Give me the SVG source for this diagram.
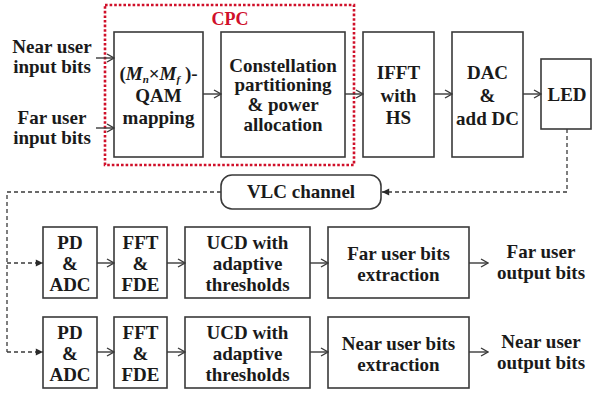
<svg xmlns="http://www.w3.org/2000/svg" width="592" height="396" viewBox="0 0 592 396">
<style>
text{font-weight:700;font-size:19px;fill:#1a1a1a;text-anchor:middle}
.box{fill:#fff;stroke:#3a3a3a;stroke-width:1.6}
.ln{fill:none;stroke:#3a3a3a;stroke-width:1.4}
.dl{fill:none;stroke:#3a3a3a;stroke-width:1.3;stroke-dasharray:4,3}
.cpc{fill:none;stroke:#d0102a;stroke-width:2.6;stroke-dasharray:2.6,2}
</style>
<defs>
<marker id="open" viewBox="0 0 10 10" refX="9" refY="5" markerWidth="10" markerHeight="10" markerUnits="userSpaceOnUse" orient="auto"><path d="M2,1 L9,5 L2,9" fill="none" stroke="#3a3a3a" stroke-width="1.4"/></marker>
<marker id="fill" viewBox="0 0 10 10" refX="9" refY="5" markerWidth="9" markerHeight="9" markerUnits="userSpaceOnUse" orient="auto"><path d="M1,1 L9,5 L1,9 z" fill="#2a2a2a"/></marker>
</defs>
<g font-family="Liberation Serif, DejaVu Serif, serif">
<rect id="cpc" class="cpc" x="105" y="5" width="249" height="160"/>
<text x="230" y="25" style="fill:#d0102a;font-size:18px">CPC</text>
<g id="near-in"><text x="52" y="53">Near user</text><text x="52" y="73">input bits</text></g>
<g id="far-in"><text x="52" y="124">Far user</text><text x="52" y="144">input bits</text></g>
<g id="qam"><rect class="box" x="114" y="32" width="89" height="125"/>
<text x="158.5" y="80">(<tspan font-style="italic">M</tspan><tspan font-style="italic" font-size="11" baseline-shift="-3">n</tspan>×<tspan font-style="italic">M</tspan><tspan font-style="italic" font-size="11" baseline-shift="-3">f</tspan> )-</text>
<text x="158.5" y="102">QAM</text><text x="158.5" y="124">mapping</text></g>
<g id="const"><rect class="box" x="221" y="32" width="124" height="125"/>
<text x="283" y="72">Constellation</text><text x="283" y="91">partitioning</text><text x="283" y="111">&amp; power</text><text x="283" y="131">allocation</text></g>
<g id="ifft"><rect class="box" x="363" y="32" width="71" height="125"/>
<text x="398.5" y="79">IFFT</text><text x="398.5" y="102">with</text><text x="398.5" y="124">HS</text></g>
<g id="dac"><rect class="box" x="452" y="32" width="71" height="125"/>
<text x="487.5" y="79">DAC</text><text x="487.5" y="102">&amp;</text><text x="487.5" y="125">add DC</text></g>
<g id="led"><rect class="box" x="541" y="59" width="50" height="70"/><text x="567" y="101">LED</text></g>
<g id="vlc"><rect class="box" x="221" y="175" width="160" height="34" rx="11"/><text x="301" y="198">VLC channel</text></g>
<g id="pd1"><rect class="box" x="43" y="227" width="54" height="71"/><text x="70" y="249">PD</text><text x="70" y="270">&amp;</text><text x="70" y="291">ADC</text></g>
<g id="fft1"><rect class="box" x="114" y="227" width="53" height="71"/><text x="140.5" y="249">FFT</text><text x="140.5" y="270">&amp;</text><text x="140.5" y="291">FDE</text></g>
<g id="ucd1"><rect class="box" x="185" y="227" width="125" height="71"/><text x="247.5" y="249">UCD with</text><text x="247.5" y="270">adaptive</text><text x="247.5" y="291">thresholds</text></g>
<g id="far-ext"><rect class="box" x="328" y="227" width="141" height="71"/><text x="398.5" y="260">Far user bits</text><text x="398.5" y="281">extraction</text></g>
<g id="far-out"><text x="541" y="258">Far user</text><text x="541" y="279">output bits</text></g>
<g id="pd2"><rect class="box" x="43" y="317" width="54" height="71"/><text x="70" y="339">PD</text><text x="70" y="360">&amp;</text><text x="70" y="381">ADC</text></g>
<g id="fft2"><rect class="box" x="114" y="317" width="53" height="71"/><text x="140.5" y="339">FFT</text><text x="140.5" y="360">&amp;</text><text x="140.5" y="381">FDE</text></g>
<g id="ucd2"><rect class="box" x="185" y="317" width="125" height="71"/><text x="247.5" y="339">UCD with</text><text x="247.5" y="360">adaptive</text><text x="247.5" y="381">thresholds</text></g>
<g id="near-ext"><rect class="box" x="328" y="317" width="141" height="71"/><text x="398.5" y="350">Near user bits</text><text x="398.5" y="371">extraction</text></g>
<g id="near-out"><text x="541" y="348">Near user</text><text x="541" y="369">output bits</text></g>
</g>
<g id="connectors">
<line class="ln" x1="96" y1="58" x2="114" y2="58" marker-end="url(#open)"/>
<line class="ln" x1="96" y1="128" x2="114" y2="128" marker-end="url(#open)"/>
<line class="ln" x1="203" y1="94" x2="221" y2="94" marker-end="url(#open)"/>
<line class="ln" x1="345" y1="94" x2="363" y2="94" marker-end="url(#open)"/>
<line class="ln" x1="434" y1="94" x2="452" y2="94" marker-end="url(#open)"/>
<line class="ln" x1="523" y1="94" x2="541" y2="94" marker-end="url(#open)"/>
<path class="dl" d="M567,129 V192 H382" marker-end="url(#fill)"/>
<path class="dl" d="M221,192 H7 V352"/>
<line class="dl" x1="7" y1="263" x2="43" y2="263" marker-end="url(#fill)"/>
<line class="dl" x1="7" y1="352" x2="43" y2="352" marker-end="url(#fill)"/>
<line class="ln" x1="97" y1="263" x2="114" y2="263" marker-end="url(#open)"/>
<line class="ln" x1="167" y1="263" x2="185" y2="263" marker-end="url(#open)"/>
<line class="ln" x1="310" y1="263" x2="328" y2="263" marker-end="url(#open)"/>
<line class="ln" x1="469" y1="263" x2="488" y2="263" marker-end="url(#open)"/>
<line class="ln" x1="97" y1="352" x2="114" y2="352" marker-end="url(#open)"/>
<line class="ln" x1="167" y1="352" x2="185" y2="352" marker-end="url(#open)"/>
<line class="ln" x1="310" y1="352" x2="328" y2="352" marker-end="url(#open)"/>
<line class="ln" x1="469" y1="352" x2="488" y2="352" marker-end="url(#open)"/>
</g>
</svg>
